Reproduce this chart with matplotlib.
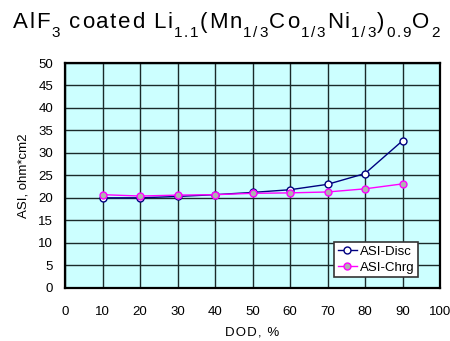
import matplotlib
matplotlib.use("Agg")
import matplotlib.pyplot as plt

plt.rcParams['font.family'] = ['Liberation Sans', 'DejaVu Sans']

# data
dod = [10, 20, 30, 40, 50, 60, 70, 80, 90]
asi_disc = [20.0, 20.0, 20.3, 20.7, 21.2, 21.8, 23.0, 25.4, 32.7]
asi_chrg = [20.7, 20.4, 20.6, 20.7, 21.0, 21.1, 21.3, 22.0, 23.1]
x_ticks = list(range(0, 101, 10))
y_ticks = list(range(0, 51, 5))

# title pieces: (text, is_subscript)
title_parts = [("AlF", False), ("3", True), (" coated Li", False), ("1.1", True),
               ("(Mn", False), ("1/3", True), ("Co", False), ("1/3", True),
               ("Ni", False), ("1/3", True), (")", False), ("0.9", True),
               ("O", False), ("2", True)]

W, H = 450, 341
fig = plt.figure(figsize=(W / 100, H / 100), dpi=100)
ax = fig.add_axes([65 / W, 1 - 287.7 / H, 375 / W, 224.7 / H])
ax.set_facecolor('#CCFFFF')

ax.plot(dod, asi_disc, color='#000080', lw=1, marker='o', ms=5,
        mfc='white', mec='#000080', mew=1, label='ASI-Disc', zorder=3)
ax.plot(dod, asi_chrg, color='#FF00FF', lw=1, marker='o', ms=5,
        mfc='#B0B0B0', mec='#FF00FF', mew=1, label='ASI-Chrg', zorder=3)

ax.set_xlim(0, 100)
ax.set_ylim(0, 50)
ax.set_xticks(x_ticks)
ax.set_yticks(y_ticks)
ax.grid(True, color='#1a2a2a', lw=1)
ax.set_axisbelow(True)
ax.tick_params(length=0, labelsize=9.5)
ax.tick_params(axis='x', pad=13)
ax.tick_params(axis='y', pad=8.5)
for s in ax.spines.values():
    s.set_linewidth(1.6)

ax.set_xlabel('D\u200aO\u200aD\u200a,\u200a \u200a%', fontsize=9.5, labelpad=6)
ax.set_ylabel('ASI, ohm*cm2', fontsize=9.5, labelpad=6)

leg = ax.legend(loc='lower right', bbox_to_anchor=(0.941, 0.0476),
                borderaxespad=0, fontsize=9.5, frameon=True, fancybox=False,
                borderpad=0.25, handlelength=1.5, handletextpad=0.2,
                labelspacing=0.27)
leg.get_frame().set_edgecolor('#333333')
leg.get_frame().set_facecolor('white')
leg.get_frame().set_alpha(1)
leg.get_frame().set_linewidth(1.2)

# title drawn letter by letter, Excel-style loose spacing, subscripts kept
renderer = fig.canvas.get_renderer()
x_px = 13.0
spacing = 1.6
for txt, sub in title_parts:
    y_px = H - 36.7 if sub else H - 27.7
    for ch in txt:
        t = fig.text(x_px / W, y_px / H, ch, fontsize=11 if sub else 16,
                     ha='left', va='baseline')
        x_px += t.get_window_extent(renderer).width + spacing

fig.savefig('out.png', dpi=100)
